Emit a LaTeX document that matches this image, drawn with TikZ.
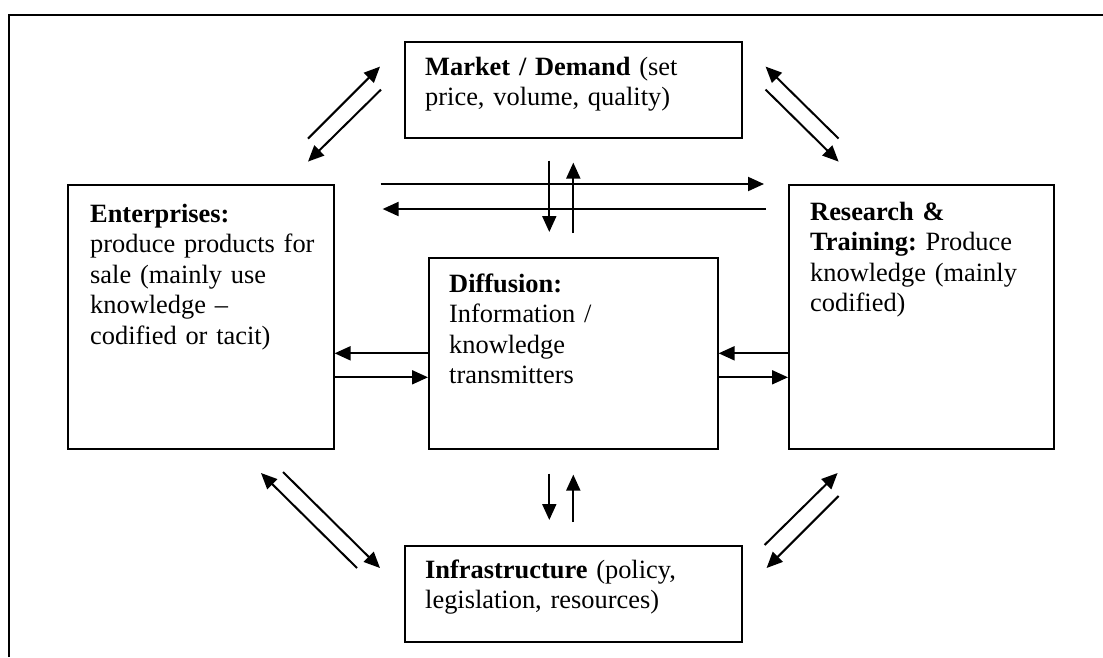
\documentclass[tikz,border=0pt]{standalone}
\usepackage{fontspec}
\setmainfont{Liberation Serif}
\usetikzlibrary{arrows.meta}
\frenchspacing
\tikzset{
    box/.style = {draw, line width = 1.6pt, inner sep = 0pt, anchor = north west},
    boxtext/.style = {anchor = base west, inner sep = 0pt, text width = 300pt, align = left,
        font = \fontsize{26.4}{30.5}\selectfont},
    flow/.style = {line width = 2pt, -{Triangle[length = 16pt, width = 14pt]}}
}
\begin{document}
\begin{tikzpicture}[x = 1pt, y = -1pt]
            \useasboundingbox (0,0) rectangle (1103,657);
            \draw[line width = 1.4pt] (9,657) -- (9,15) -- (1103,15);
            % boxes
            \node[box, minimum width = 337pt, minimum height = 96pt] (mkt) at (404,41) {};
            \node[box, minimum width = 266pt, minimum height = 264pt] (ent) at (67,184) {};
            \node[box, minimum width = 289pt, minimum height = 191pt] (dif) at (428,257) {};
            \node[box, minimum width = 265pt, minimum height = 264pt] (res) at (788,184) {};
            \node[box, minimum width = 337pt, minimum height = 96pt] (inf) at (404,545) {};
            % texts
            \node[boxtext] (mkttext) at ([shift = {(21,34)}]mkt.north west)
                {\textbf{Market / Demand} (set\\price, volume, quality)};
            \node[boxtext] (enttext) at ([shift = {(23,38)}]ent.north west)
                {\textbf{Enterprises:}\\produce products for\\sale (mainly use\\knowledge --\\codified or tacit)};
            \node[boxtext] (diftext) at ([shift = {(21,35)}]dif.north west)
                {\textbf{Diffusion:}\\Information /\\knowledge\\transmitters};
            \node[boxtext] (restext) at ([shift = {(22,36)}]res.north west)
                {\textbf{Research \&}\\\textbf{Training:} Produce\\knowledge (mainly\\codified)};
            \node[boxtext] (inftext) at ([shift = {(21,33)}]inf.north west)
                {\textbf{Infrastructure} (policy,\\legislation, resources)};
            % market links
            \draw[flow] ([shift = {(-96,0)}]mkt.south west) -- ([shift = {(-24,-72)}]mkt.south west);
            \draw[flow] ([shift = {(-23,-49)}]mkt.south west) -- ([shift = {(-96,23)}]mkt.south west);
            \draw[flow] ([shift = {(96,0)}]mkt.south east) -- ([shift = {(23,-72)}]mkt.south east);
            \draw[flow] ([shift = {(23,-49)}]mkt.south east) -- ([shift = {(96,23)}]mkt.south east);
            \draw[flow] ([shift = {(-24,22)}]mkt.south) -- ([shift = {(-24,-25)}]dif.north);
            \draw[flow] ([shift = {(0,-24)}]dif.north) -- ([shift = {(0,24)}]mkt.south);
            % enterprises <-> research
            \draw[flow] ([shift = {(46,0)}]ent.north east) -- ([shift = {(-24,0)}]res.north west);
            \draw[flow] ([shift = {(-22,25)}]res.north west) -- ([shift = {(48,25)}]ent.north east);
            % diffusion links
            \draw[flow] (dif.west) -- (dif.west -| ent.east);
            \draw[flow] ([shift = {(0,24)}]dif.west -| ent.east) -- ([shift = {(0,24)}]dif.west);
            \draw[flow] (dif.east -| res.west) -- (dif.east);
            \draw[flow] ([shift = {(0,24)}]dif.east) -- ([shift = {(0,24)}]dif.east -| res.west);
            \draw[flow] ([shift = {(-24,24)}]dif.south) -- ([shift = {(-24,-25)}]inf.north);
            \draw[flow] ([shift = {(0,-23)}]inf.north) -- ([shift = {(0,25)}]dif.south);
            % infrastructure links
            \draw[flow] ([shift = {(-47,23)}]inf.north west) -- ([shift = {(-143,-72)}]inf.north west);
            \draw[flow] ([shift = {(-121,-73)}]inf.north west) -- ([shift = {(-24,23)}]inf.north west);
            \draw[flow] ([shift = {(22,0)}]inf.north east) -- ([shift = {(95,-72)}]inf.north east);
            \draw[flow] ([shift = {(96,-49)}]inf.north east) -- ([shift = {(24,23)}]inf.north east);
\end{tikzpicture}
\end{document}
